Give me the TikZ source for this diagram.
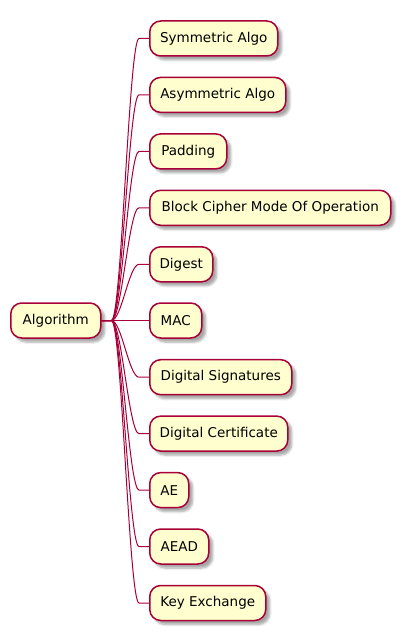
\documentclass[tikz,border=0pt]{standalone}
\usepackage{fontspec}
\setmainfont{DejaVu Sans}
\usetikzlibrary{calc,shadows.blur}
\definecolor{pfill}{HTML}{FEFECE}
\definecolor{pline}{HTML}{A80036}
\begin{document}
\begin{tikzpicture}[x=1pt,y=-1pt,
  mm/.style={draw=pline, fill=pfill, line width=1.5pt, rounded corners=11pt,
    minimum height=35pt, inner sep=0pt, anchor=west,
    font=\fontsize{13.5}{16}\selectfont,
    blur shadow={shadow xshift=4pt, shadow yshift=-4pt, shadow blur steps=6, shadow opacity=35}},
  conn/.style={draw=pline, line width=1pt}]
\useasboundingbox (0,0) rectangle (408,639);
\node[mm, minimum width=90pt] (root) at (10,320.5) {Algorithm};
\node[mm, minimum width=128pt] (sym) at (149,38.5) {Symmetric Algo};
\node[mm, minimum width=136pt] (asym) at (149,94.9) {Asymmetric Algo};
\node[mm, minimum width=77pt] (pad) at (149,151.4) {Padding};
\node[mm, minimum width=241pt] (block) at (149,207.8) {Block Cipher Mode Of Operation};
\node[mm, minimum width=63pt] (digest) at (149,264.3) {Digest};
\node[mm, minimum width=52pt] (mac) at (149,320.5) {MAC};
\node[mm, minimum width=142pt] (dsig) at (149,377.2) {Digital Signatures};
\node[mm, minimum width=138pt] (dcert) at (149,433.6) {Digital Certificate};
\node[mm, minimum width=39pt] (ae) at (149,490.1) {AE};
\node[mm, minimum width=59pt] (aead) at (149,546.5) {AEAD};
\node[mm, minimum width=116pt] (kex) at (149,603) {Key Exchange};
\foreach \c in {sym,asym,pad,block,digest,mac,dsig,dcert,ae,aead,kex}
  \draw[conn] (root.east) -- ++(10,0) .. controls +(10,0) and ($(\c.west)+(-20,0)$) .. ($(\c.west)+(-10,0)$) -- (\c.west);
\end{tikzpicture}
\end{document}
